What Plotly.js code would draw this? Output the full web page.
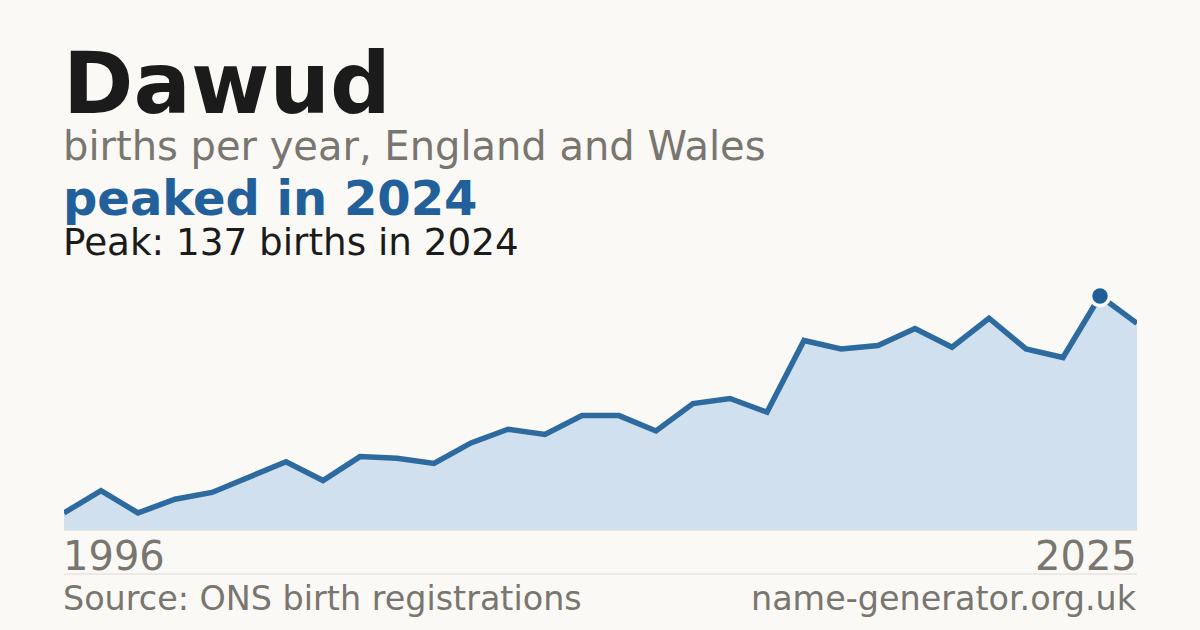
<!DOCTYPE html>
<html>
<head>
<meta charset="utf-8">
<script src="https://cdn.plot.ly/plotly-3.0.1.min.js"></script>
<style>
  html, body { margin: 0; padding: 0; background: #faf9f5; }
  #grafico { width: 1200px; height: 630px; }
</style>
</head>
<body>
<div id="grafico"></div>
<script>
// Datos: nacimientos por año del nombre "Dawud".
const ANIOS = [
  1996, 1997, 1998, 1999, 2000, 2001, 2002, 2003, 2004, 2005,
  2006, 2007, 2008, 2009, 2010, 2011, 2012, 2013, 2014, 2015,
  2016, 2017, 2018, 2019, 2020, 2021, 2022, 2023, 2024, 2025,
];
const NACIMIENTOS = [
  10, 23, 10, 18, 22, 31, 40, 29, 43, 42,
  39, 51, 59, 56, 67, 67, 58, 74, 77, 69,
  111, 106, 108, 118, 107, 124, 106, 101, 137, 121,
];
const NOMBRE = 'Dawud';
const SUBTITULO = 'births per year, England and Wales';
const FUENTE = 'Source: ONS birth registrations';
const SITIO = 'name-generator.org.uk';

// Pico: se calcula desde la serie, no se tipea.
const iPico = NACIMIENTOS.indexOf(Math.max(...NACIMIENTOS));
const anioPico = ANIOS[iPico];
const valorPico = NACIMIENTOS[iPico];

const ANCHO = 1200, ALTO = 630;
const MARGEN = { l: 64, r: 63, t: 280, b: 100 };
const Y_MAX = 146.4;

// px (desde arriba) -> coordenada "paper"; el desplazamiento en x compensa
// el relleno interno de las anotaciones de Plotly
const altoPlot = ALTO - MARGEN.t - MARGEN.b;
const anchoPlot = ANCHO - MARGEN.l - MARGEN.r;
const py = (p) => (ALTO - MARGEN.b - p) / altoPlot;
const AJUSTE_X = 3 / anchoPlot;

const FUENTE_TXT = '"DejaVu Sans", "Noto Sans", sans-serif';
const GRIS = '#79756f';
const AZUL = '#21609a';

const area = {
  x: ANIOS,
  y: NACIMIENTOS,
  type: 'scatter',
  mode: 'lines',
  fill: 'tozeroy',
  fillcolor: '#d0e0ef',
  line: { color: '#2c6a9f', width: 5.5 },
  hoverinfo: 'skip',
  showlegend: false,
};

const marcaPico = {
  x: [anioPico],
  y: [valorPico],
  type: 'scatter',
  mode: 'markers',
  marker: { size: 19, color: '#1f5f96', line: { color: '#faf9f5', width: 3.5 } },
  hoverinfo: 'skip',
  showlegend: false,
};

const texto = (t, y, size, color, derecha = false) => ({
  xref: 'paper', yref: 'paper',
  x: derecha ? 1 + AJUSTE_X * 0.7 : -AJUSTE_X,
  y: py(y),
  xanchor: derecha ? 'right' : 'left', yanchor: 'middle',
  text: t, showarrow: false,
  font: { family: FUENTE_TXT, size, color },
});

const layout = {
  width: ANCHO,
  height: ALTO,
  margin: MARGEN,
  paper_bgcolor: '#faf9f5',
  plot_bgcolor: '#faf9f5',
  showlegend: false,
  xaxis: {
    range: [ANIOS[0], ANIOS[ANIOS.length - 1]],
    showgrid: false, zeroline: false, showticklabels: false, ticks: '',
    showline: true, linecolor: '#ece5da', linewidth: 1,
  },
  yaxis: {
    range: [0, Y_MAX],
    showgrid: false, zeroline: false, showticklabels: false, ticks: '', showline: false,
  },
  shapes: [{
    type: 'line', xref: 'paper', yref: 'paper',
    x0: 0, x1: 1, y0: py(574), y1: py(574),
    line: { color: '#dddad3', width: 1 },
  }],
  annotations: [
    texto(`<b>${NOMBRE}</b>`, 83, 85, '#1b1b1b'),
    texto(SUBTITULO, 145.5, 40, GRIS),
    texto(`<b>peaked in ${anioPico}</b>`, 197.5, 48, AZUL),
    texto(`Peak: ${valorPico} births in ${anioPico}`, 241.5, 37.3, '#1b1b1b'),
    texto(String(ANIOS[0]), 556, 40, GRIS),
    texto(String(ANIOS[ANIOS.length - 1]), 556, 40, GRIS, true),
    texto(FUENTE, 598, 33.4, GRIS),
    texto(SITIO, 598, 33.4, GRIS, true),
  ],
};

Plotly.newPlot('grafico', [area, marcaPico], layout, { displayModeBar: false, staticPlot: true });
</script>
</body>
</html>
